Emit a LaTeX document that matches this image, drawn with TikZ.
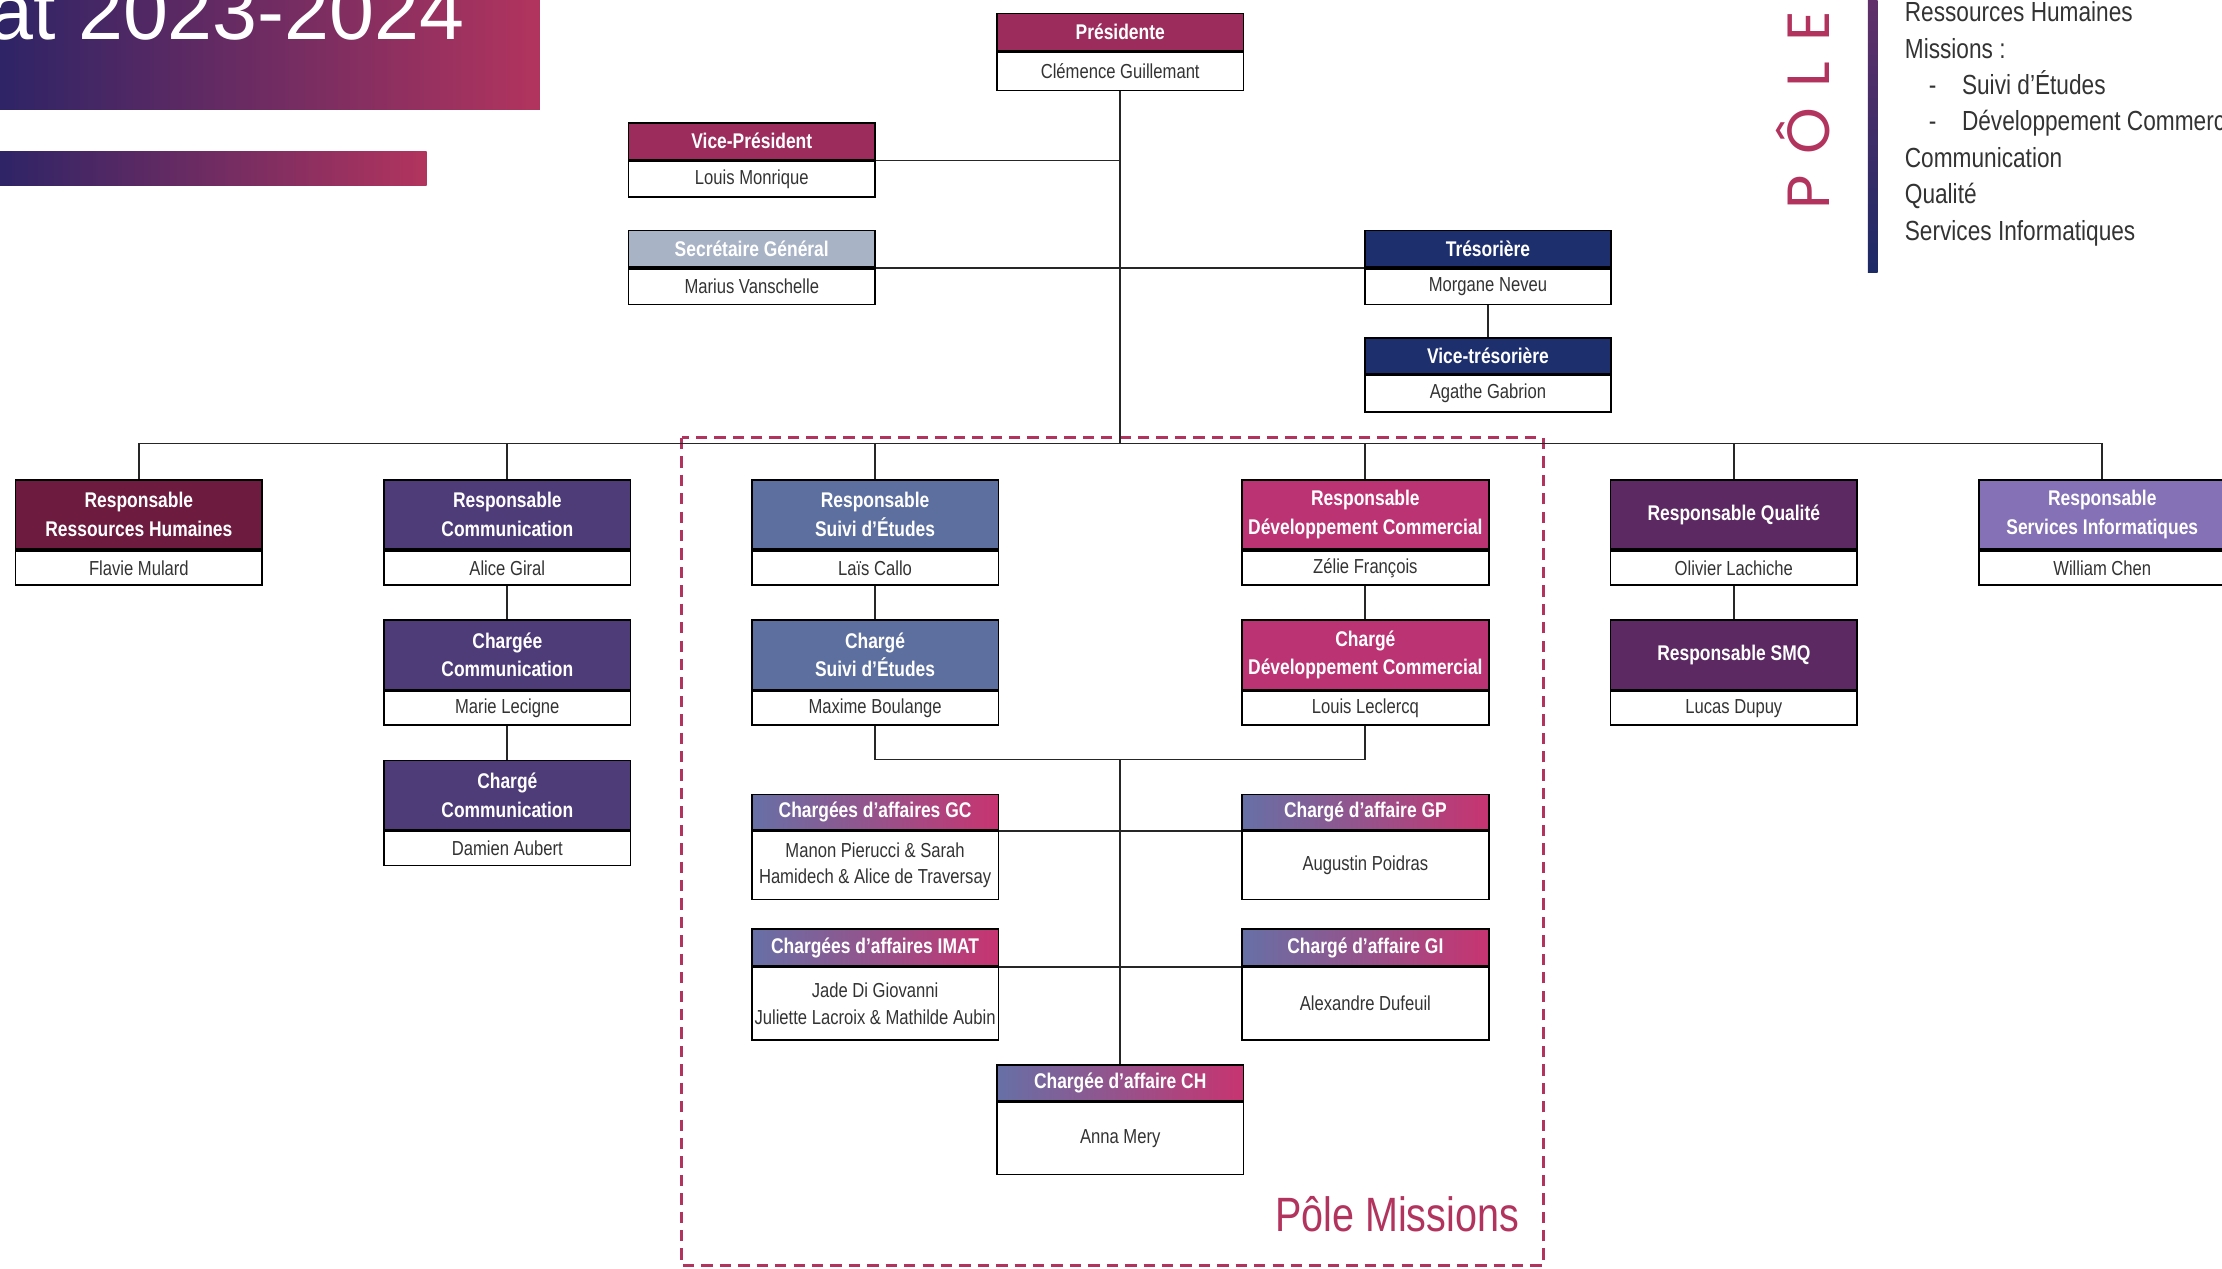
\documentclass[tikz,border=0pt]{standalone}
\usepackage{fontspec}
\setmainfont{Liberation Sans}[FakeStretch=0.82]
\newfontfamily\titlefont{Liberation Sans}
\newfontfamily\polefont{Poppins}[LetterSpace=34]
\usepackage{xcolor}
\usepackage{tikz}
\usetikzlibrary{calc}
\definecolor{cPres}{HTML}{9B2C5C}
\definecolor{cSec}{HTML}{A9B3C6}
\definecolor{cTres}{HTML}{1E2F6E}
\definecolor{cRH}{HTML}{6D1B3F}
\definecolor{cCom}{HTML}{4E3C78}
\definecolor{cSui}{HTML}{5D6F9E}
\definecolor{cDev}{HTML}{BC3373}
\definecolor{cQua}{HTML}{5C2962}
\definecolor{cSI}{HTML}{8571B5}
\definecolor{slate}{HTML}{6670A6}
\definecolor{rose}{HTML}{C73470}
\definecolor{txt}{HTML}{333333}
\definecolor{crim}{HTML}{B2345E}
\definecolor{navy}{HTML}{2E2466}
\definecolor{plum}{HTML}{62306A}
\definecolor{ink}{HTML}{1C2A66}

\begin{document}
\begin{tikzpicture}[x=1pt,y=-1pt,
  hd/.style={draw=black,line width=1.2pt,fill=#1,text=white,
    font=\bfseries\fontsize{15}{20}\selectfont,minimum width=174pt,
    inner sep=0pt,align=center,anchor=north},
  gd/.style={draw=black,line width=1.2pt,left color=slate,right color=rose,
    text=white,font=\bfseries\fontsize{15}{20}\selectfont,minimum width=174pt,
    inner sep=0pt,align=center,anchor=north,minimum height=#1},
  bd/.style={draw=black,line width=1.2pt,fill=white,text=txt,
    font=\fontsize{14.3}{18.5}\selectfont,minimum width=174pt,
    inner sep=0pt,align=center,anchor=north,minimum height=#1},
  link/.style={line width=1.3pt,draw=black!85}]
  \useasboundingbox (0,0) rectangle (1568,895);
  \clip (0,0) rectangle (1568,895);

  % title banner
  \shade[left color=navy,right color=crim] (0,-5) rectangle (381,77);
  \shade[left color=navy,right color=crim] (0,107) rectangle (301,131);
  \node[anchor=base east,text=white,inner sep=0pt,
    font=\titlefont\fontsize{57}{60}\selectfont] (title) at (328,28) {at 2023-2024};

  % legend
  \node[rotate=90,anchor=base west,inner sep=0pt,text=crim,
    font=\polefont\fontsize{42}{46}\selectfont] (pole) at (1291,148) {PÔLE};
  \shade[top color=plum,bottom color=ink] (1318,-2) rectangle (1325,192);
  \node[anchor=north west,inner sep=0pt,align=left,text=txt,
    font=\fontsize{19.5}{25.7}\selectfont] (legend) at (1344,1)
    {Ressources Humaines\\
     Missions :\\
     \hspace*{17pt}-\hspace*{18pt}Suivi d’Études\\
     \hspace*{17pt}-\hspace*{18pt}Développement Commercial\\
     Communication\\
     Qualité\\
     Services Informatiques};

  % bureau
  \node[hd=cPres,minimum height=26pt] (presH) at (790.5,9) {Présidente};
  \node[bd=27pt] (pres) at (presH.south) {Clémence Guillemant};
  \node[hd=cPres,minimum height=26pt] (vpH) at (530.5,86) {Vice-Président};
  \node[bd=25pt] (vp) at (vpH.south) {Louis Monrique};
  \node[hd=cSec,minimum height=26pt] (sgH) at (530.5,162) {Secrétaire Général};
  \node[bd=25pt] (sg) at (sgH.south) {Marius Vanschelle};
  \node[hd=cTres,minimum height=26pt] (tresH) at (1050,162) {Trésorière};
  \node[bd=25pt] (tres) at (tresH.south) {Morgane Neveu};
  \node[hd=cTres,minimum height=25pt] (vtresH) at (1050,238) {Vice-trésorière};
  \node[bd=26pt] (vtres) at (vtresH.south) {Agathe Gabrion};

  % responsables
  \node[hd=cRH,minimum height=49pt] (rhH) at (98,338) {Responsable\\Ressources Humaines};
  \node[bd=24pt] (rh) at (rhH.south) {Flavie Mulard};
  \node[hd=cCom,minimum height=49pt] (comH) at (358,338) {Responsable\\Communication};
  \node[bd=24pt] (com) at (comH.south) {Alice Giral};
  \node[hd=cSui,minimum height=49pt] (suiH) at (617.5,338) {Responsable\\Suivi d’Études};
  \node[bd=24pt] (sui) at (suiH.south) {Laïs Callo};
  \node[hd=cDev,minimum height=49pt] (devH) at (963.5,338) {Responsable\\Développement Commercial};
  \node[bd=24pt] (dev) at (devH.south) {Zélie François};
  \node[hd=cQua,minimum height=49pt] (quaH) at (1223.5,338) {Responsable Qualité};
  \node[bd=24pt] (qua) at (quaH.south) {Olivier Lachiche};
  \node[hd=cSI,minimum height=49pt] (siH) at (1483.5,338) {Responsable\\Services Informatiques};
  \node[bd=24pt] (si) at (siH.south) {William Chen};

  % chargés
  \node[hd=cCom,minimum height=49pt] (ccomH) at (358,437) {Chargée\\Communication};
  \node[bd=24pt] (ccom) at (ccomH.south) {Marie Lecigne};
  \node[hd=cCom,minimum height=49pt] (dcomH) at (358,536) {Chargé\\Communication};
  \node[bd=24pt] (dcom) at (dcomH.south) {Damien Aubert};
  \node[hd=cSui,minimum height=49pt] (csuiH) at (617.5,437) {Chargé\\Suivi d’Études};
  \node[bd=24pt] (csui) at (csuiH.south) {Maxime Boulange};
  \node[hd=cDev,minimum height=49pt] (cdevH) at (963.5,437) {Chargé\\Développement Commercial};
  \node[bd=24pt] (cdev) at (cdevH.south) {Louis Leclercq};
  \node[hd=cQua,minimum height=49pt] (smqH) at (1223.5,437) {Responsable SMQ};
  \node[bd=24pt] (smq) at (smqH.south) {Lucas Dupuy};

  % chargés d'affaires
  \node[gd=25pt] (gcH) at (617.5,560) {Chargées d’affaires GC};
  \node[bd=48pt] (gc) at (gcH.south) {Manon Pierucci \& Sarah\\Hamidech \& Alice de Traversay};
  \node[gd=25pt] (gpH) at (963.5,560) {Chargé d’affaire GP};
  \node[bd=48pt] (gp) at (gpH.south) {Augustin Poidras};
  \node[gd=26pt] (imatH) at (617.5,655) {Chargées d’affaires IMAT};
  \node[bd=51pt] (imat) at (imatH.south) {Jade Di Giovanni\\Juliette Lacroix \& Mathilde Aubin};
  \node[gd=26pt] (giH) at (963.5,655) {Chargé d’affaire GI};
  \node[bd=51pt] (gi) at (giH.south) {Alexandre Dufeuil};
  \node[gd=25pt] (chH) at (790.5,751) {Chargée d’affaire CH};
  \node[bd=51pt] (ch) at (chH.south) {Anna Mery};

  % pôle missions
  \draw[crim,line width=2pt,dash pattern=on 8pt off 5pt] (481,309) rectangle (1089,893);
  \node[anchor=base east,inner sep=0pt,text=crim,
    font=\fontsize{34}{40}\selectfont] (pm) at (1072,869) {Pôle Missions};

  % liens
  \coordinate (bus) at (790.5,313);
  \coordinate (join) at (790.5,536);
  \draw[link] (pres.south) -- (bus);
  \draw[link] (vpH.south east) -- (vpH.south east -| pres.south);
  \draw[link] (sgH.south east) -- (tresH.south west);
  \draw[link] (tres.south) -- (vtresH.north);
  \draw[link] (rhH.north) |- (bus) -| (siH.north);
  \foreach \n in {comH,suiH,devH,quaH}
    \draw[link] (\n.north) -- (\n.north |- bus);
  \draw[link] (com.south) -- (ccomH.north);
  \draw[link] (ccom.south) -- (dcomH.north);
  \draw[link] (sui.south) -- (csuiH.north);
  \draw[link] (dev.south) -- (cdevH.north);
  \draw[link] (qua.south) -- (smqH.north);
  \draw[link] (csui.south) |- (join) -| (cdev.south);
  \draw[link] (join) -- (chH.north);
  \draw[link] (gcH.south east) -- (gpH.south west);
  \draw[link] (imatH.south east) -- (giH.south west);
\end{tikzpicture}
\end{document}
